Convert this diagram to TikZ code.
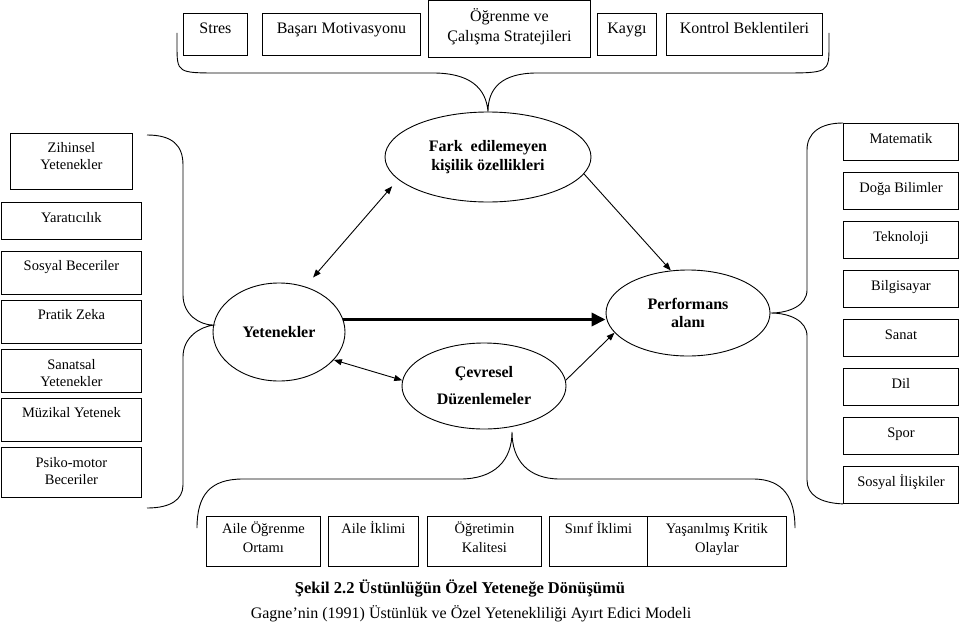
\documentclass[tikz,border=0pt]{standalone}
\usepackage{fontspec}
\setmainfont{Liberation Serif}
\usetikzlibrary{shapes.geometric,arrows.meta}
\begin{document}
\begin{tikzpicture}[x=1pt,y=-1pt]
    \tikzstyle{itembox}=[draw,line width=0.9pt,anchor=north west,inner sep=0pt,align=center]
    \tikzstyle{factor}=[ellipse,draw,line width=0.9pt,inner sep=0pt,align=center,font=\bfseries\fontsize{16}{19}\selectfont]
    \tikzstyle{link}=[line width=0.9pt,-{Triangle[length=8pt,width=6pt]}]
    \tikzstyle{duallink}=[line width=0.9pt,{Triangle[length=8pt,width=6pt]}-{Triangle[length=8pt,width=6pt]}]
    \tikzstyle{mainlink}=[line width=3.6pt,-{Triangle[length=14pt,width=13pt]}]
    \tikzstyle{brace}=[line width=0.9pt]
    \useasboundingbox (0,0) rectangle (960,626);
    % intrapersonal catalysts
    \begin{scope}[every node/.append style={font=\fontsize{16}{20}\selectfont}]
        \node[itembox,minimum width=64pt,text height=20pt,text depth=22pt] (stres) at (183,13) {Stres};
        \node[itembox,minimum width=158pt,text height=20pt,text depth=22pt] (basari) at (262,13) {Başarı Motivasyonu};
        \node[itembox,minimum width=162pt,text height=41pt,text depth=16pt] (ogrenme) at (428,0) {Öğrenme ve\\Çalışma Stratejileri};
        \node[itembox,minimum width=59pt,text height=20pt,text depth=22pt] (kaygi) at (597,13) {Kaygı};
        \node[itembox,minimum width=156pt,text height=20pt,text depth=22pt] (kontrol) at (666,13) {Kontrol Beklentileri};
    \end{scope}
    % giftedness domains
    \begin{scope}[every node/.append style={font=\fontsize{14.5}{17}\selectfont}]
        \node[itembox,minimum width=122pt,text height=36pt,text depth=20pt] (zihinsel) at (10,133) {Zihinsel\\Yetenekler};
        \node[itembox,minimum width=140pt,text height=20pt,text depth=17pt] (yaratici) at (1,202) {Yaratıcılık};
        \node[itembox,minimum width=140pt,text height=19pt,text depth=24pt] (sosyal) at (1,251) {Sosyal Beceriler};
        \node[itembox,minimum width=140pt,text height=19pt,text depth=24pt] (pratik) at (1,300) {Pratik Zeka};
        \node[itembox,minimum width=140pt,text height=37pt,text depth=6pt] (sanatsal) at (1,349) {Sanatsal\\Yetenekler};
        \node[itembox,minimum width=140pt,text height=19pt,text depth=24pt] (muzikal) at (1,398) {Müzikal Yetenek};
        \node[itembox,minimum width=140pt,text height=37pt,text depth=13pt] (psiko) at (1,447) {Psiko-motor\\Beceriler};
    \end{scope}
    % talent fields
    \begin{scope}[every node/.append style={font=\fontsize{14.5}{17}\selectfont,minimum width=115pt,text height=20pt,text depth=17pt}]
        \node[itembox] (matematik) at (843,123) {Matematik};
        \node[itembox] (doga) at (843,172) {Doğa Bilimler};
        \node[itembox] (teknoloji) at (843,221) {Teknoloji};
        \node[itembox] (bilgisayar) at (843,270) {Bilgisayar};
        \node[itembox] (sanat) at (843,319) {Sanat};
        \node[itembox] (dil) at (843,368) {Dil};
        \node[itembox] (spor) at (843,417) {Spor};
        \node[itembox] (iliski) at (843,466) {Sosyal İlişkiler};
    \end{scope}
    % environmental catalysts
    \begin{scope}[every node/.append style={font=\fontsize{14.5}{19}\selectfont}]
        \node[itembox,minimum width=114pt,text height=36pt,text depth=14pt] (aileogr) at (206,516) {Aile Öğrenme\\Ortamı};
        \node[itembox,minimum width=90pt,text height=17pt,text depth=33pt] (aileikl) at (328,516) {Aile İklimi};
        \node[itembox,minimum width=114pt,text height=36pt,text depth=14pt] (ogretim) at (427,516) {Öğretimin\\Kalitesi};
        \node[itembox,minimum width=98pt,text height=17pt,text depth=33pt] (sinif) at (549,516) {Sınıf İklimi};
        \node[itembox,minimum width=139pt,text height=36pt,text depth=14pt] (yasanan) at (647,516) {Yaşanılmış Kritik\\Olaylar};
    \end{scope}
    % model
    \node[factor,minimum width=206pt,minimum height=90pt] (fark) at (488,157) {Fark\ \ edilemeyen\\kişilik özellikleri};
    \node[factor,minimum width=132pt,minimum height=98pt] (yetenek) at (279,332) {Yetenekler};
    \node[factor,minimum width=164pt,minimum height=86pt,font=\bfseries\fontsize{16}{27}\selectfont] (cevre) at (484,386) {Çevresel\\Düzenlemeler};
    \node[factor,minimum width=164pt,minimum height=86pt,font=\bfseries\fontsize{16}{18}\selectfont] (perf) at (688,313) {Performans\\alanı};
    \draw[duallink,shorten <=9pt,shorten >=12pt] (fark.194) -- (yetenek.60);
    \draw[link] (fark.350) -- (perf.112);
    \draw[mainlink] (yetenek.11) -- (yetenek.11 -| perf.west);
    \draw[duallink] (yetenek.-27) -- (cevre.176);
    \draw[link] (cevre.4) -- (perf.195);
    % braces
    \coordinate (toplft) at (177,33);
    \coordinate (toprgt) at (829,33);
    \coordinate (lfttop) at (147,135);
    \coordinate (lftbot) at (147,508);
    \coordinate (bottip) at (512,432);
    \coordinate (botlft) at (197,528);
    \coordinate (botrgt) at (795,528);
    \draw[brace] (toplft) -- (177,45) .. controls (177,73) .. (220,73) -- (433,73)
        .. controls (470,73) and (486,88) .. (fark.north)
        .. controls (488,88) and (502,73) .. (537,73) -- (780,73)
        .. controls (829,73) .. (829,45) -- (toprgt);
    \draw[brace] (lfttop) .. controls (172,135) and (183,145) .. (183,165) -- (183,295)
        .. controls (183,315) and (200,325) .. (yetenek.174)
        .. controls (200,327) and (183,337) .. (183,357) -- (183,485)
        .. controls (183,500) and (170,508) .. (lftbot);
    \draw[brace] (matematik.north west) .. controls (820,123) and (807,133) .. (807,150) -- (807,290)
        .. controls (807,305) and (790,313) .. (perf.east)
        .. controls (790,313) and (807,321) .. (807,336) -- (807,480)
        .. controls (807,495) and (820,503) .. (iliski.south west);
    \draw[brace] (botlft) .. controls (197,495) and (210,479) .. (243,479) -- (460,479)
        .. controls (495,479) and (512,460) .. (bottip)
        .. controls (512,460) and (528,479) .. (560,479) -- (753,479)
        .. controls (785,479) and (795,500) .. (botrgt);
    % caption
    \node[font=\bfseries\fontsize{16.5}{20}\selectfont] (sekil) at (460,588) {Şekil 2.2 Üstünlüğün Özel Yeteneğe Dönüşümü};
    \node[font=\fontsize{16}{20}\selectfont] (kaynak) at (471,614) {Gagne’nin (1991) Üstünlük ve Özel Yetenekliliği Ayırt Edici Modeli};
\end{tikzpicture}
\end{document}
